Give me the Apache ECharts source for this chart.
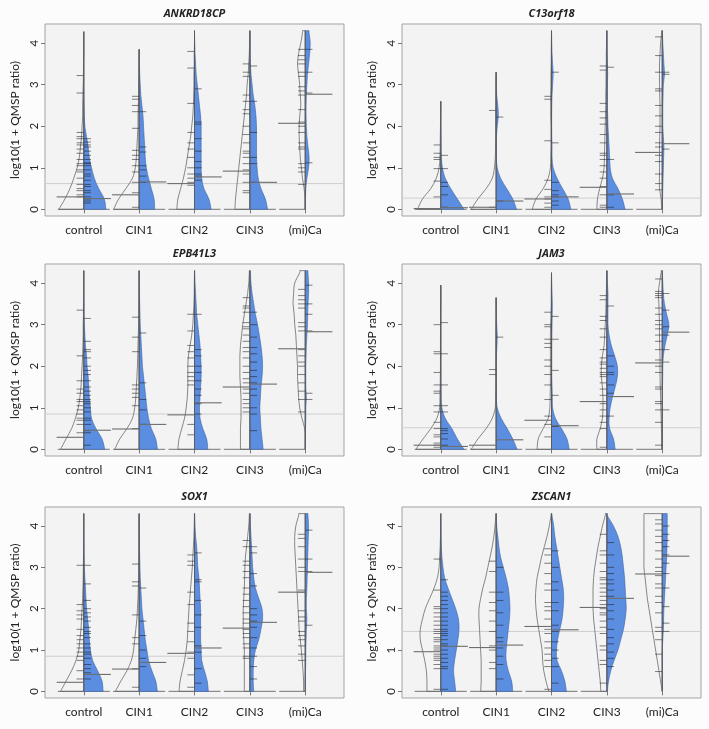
<!DOCTYPE html>
<html>
<head>
<meta charset="utf-8">
<script src="https://cdn.jsdelivr.net/npm/echarts@6/dist/echarts.min.js"></script>
<style>
html,body{margin:0;padding:0;background:#fcfcfc;}
#chart{width:709px;height:729px;}
</style>
</head>
<body>
<div id="chart"></div>
<script>
// ---------------- DATA ----------------
const categories = ['control', 'CIN1', 'CIN2', 'CIN3', '(mi)Ca'];
const genes = ['ANKRD18CP', 'C13orf18', 'EPB41L3', 'JAM3', 'SOX1', 'ZSCAN1'];
const yTicks = [0, 1, 2, 3, 4];
const yAxisTitle = 'log10(1 + QMSP ratio)';
// y levels at which bean half-widths are read (log10 units)
const levels = [0, 0.25, 0.5, 0.75, 1, 1.25, 1.5, 1.75, 2, 2.25, 2.5, 2.75, 3, 3.25, 3.5, 3.75, 4, 4.25];
// overall mean per gene (thin grey reference line)
const overallMeans = [0.62, 0.27, 0.85, 0.52, 0.85, 1.45];

// ---- ANKRD18CP ----  density half-widths in hundredths of category spacing
const densL_ANKRD18CP = [
  [45,34,25,18,12,8,6,4,3,2,2,1.5,1,0.5,0.5,0,0,0],
  [46,37,24,12,7,5,4,3,2,2,1.5,1,1,0.5,0.5,0,0,0],
  [32,30,25,20,16,13,10,7,5,3,2,1.5,1,1,0.5,0.5,0,0],
  [27,26,24,22,20,18,16,14,12,10,8,6,5,3,2,1,0.5,0],
  [0.5,0.5,2,5,7,9,10,11,11,10,8,9,10,12,14,12,8,5]
];
const densR_ANKRD18CP = [
  [40,37,27,19,14,10,8,5,2,1,0.5,0,0,0,0,0,0,0],
  [28,27,22,17,13,11,10,9,8,7,5,3,2,1,0.5,0,0,0],
  [30,26,17,13,12,12,12,12,12,11,9,7,5,3,2,1,0.5,0],
  [32,28,20,15,13,12,12,12,12,11,9,6,4,2,1,0.5,0.5,0],
  [0,0.5,1,3,6,7,5,3,2,1.5,1.5,2,3,4,6,8,9,7]
];
const top_ANKRD18CP = [4.27, 3.85, 4.3, 4.3, 4.3];
const meanL_ANKRD18CP = [0.30, 0.35, 0.62, 0.92, 2.07];
const meanR_ANKRD18CP = [0.26, 0.66, 0.78, 0.65, 2.77];
const zeroL_ANKRD18CP = [1, 1, 1, 1, 1];
const zeroR_ANKRD18CP = [1, 1, 1, 1, 0];
const rugL_ANKRD18CP = [
  [3.22,2.8,1.85,1.75,1.7,1.6,1.55,1.45,1.35,1.2,1.1,1.05,0.95,0.9,0.75,0.6,0.5,0.45,0.35,0.3],
  [2.72,2.65,2.5,2.35,1.95,1.42,1.3,1.2,1.05,0.9,0.65,0.4,0.05],
  [3.8,3.4,2.55,1.85,1.6,1.45,1.25,1.0,0.85,0.75,0.65,0.58],
  [3.5,3.3,3.2,2.75,2.6,2.4,2.3,2.0,1.8,1.6,1.4,1.35,1.25,1.1,0.95,0.85,0.65,0.45,0.4],
  [3.85,3.7,3.6,3.5,3.3,3.2,2.95,2.85,2.75,2.4,2.1,2.0,1.85,1.6,1.5,1.45,1.1,1.0,0.9,0.6]
];
const rugR_ANKRD18CP = [
  [1.7,1.62,1.55,1.5,1.4,1.3,1.2,1.12,1.1,1.05,0.95,0.85,0.8,0.7,0.6,0.55,0.45,0.4,0.3,0.25,0.2,0.15],
  [2.35,1.5,1.38,1.05,0.95,0.8,0.65],
  [2.9,2.1,2.05,1.7,1.4,1.15,1.0,0.85,0.8,0.7],
  [3.45,2.6,1.85,1.25,1.1,0.65],
  [3.85,3.3,2.8,1.12]
];

// ---- C13orf18 ----
const densL_C13orf18 = [
  [42,33,18,8,3,1.5,1,0.8,0.5,0.3,0,0,0,0,0,0,0,0],
  [45,33,18,7,3,1.5,1,0.8,0.8,0.8,0.6,0.5,0.3,0,0,0,0,0],
  [35,28,15,6,2,1.5,1,1,1,1.5,1.5,1.5,1,1,0.5,0.5,0.3,0],
  [18,17,13,8,5,4.5,4,3.5,3,2.5,2,2,1.5,1.5,1,1,0.5,0.3],
  [1,2,5,5,5,5,5,4.5,4,4,4,4.5,5,5,5,4,3,1]
];
const densR_C13orf18 = [
  [42,30,18,8,3,1,0.5,0.3,0,0,0,0,0,0,0,0,0,0],
  [37,30,19,8,2,0.5,0.3,0.5,2,4,3,1,0.3,0,0,0,0,0],
  [35,30,20,10,3,1,1,0.5,0.3,0.3,0.5,1,2,3,2,1,0.5,0.2],
  [33,28,20,10,6,5,4,3,2,1.5,1,1,1,1.5,1,0.5,0.3,0.2],
  [0.5,0.5,1,1.5,2,2.5,3,2,1,1,1,1.5,2,4,3,2,1,0.3]
];
const top_C13orf18 = [2.6, 3.3, 4.3, 4.3, 4.3];
const meanL_C13orf18 = [0.02, 0.05, 0.25, 0.53, 1.37];
const meanR_C13orf18 = [0.04, 0.2, 0.3, 0.37, 1.58];
const zeroL_C13orf18 = [1, 1, 1, 1, 1];
const zeroR_C13orf18 = [1, 1, 1, 1, 0];
const rugL_C13orf18 = [
  [1.55,1.35,1.25,1.2,0.98,0.68,0.3],
  [2.38,0.05],
  [2.72,2.65,1.65,0.7,0.48,0.3,0.25,0.15,0.05],
  [3.45,3.35,2.55,2.35,2.2,2.05,1.8,1.6,1.35,1.3,1.2,1.05,0.9,0.75,0.55,0.35,0.1,0.05],
  [4.15,3.7,3.3,2.9,2.85,2.5,2.25,2.0,1.85,1.6,1.5,1.3,1.15,0.85,0.62,0.47]
];
const rugR_C13orf18 = [
  [1.3,0.98,0.65,0.55,0.35,0.05],
  [2.22,0.2],
  [3.3,1.6,0.65,0.45,0.35,0.3,0.2,0.1],
  [3.42,1.2,0.35,0.05],
  [3.3,3.25,1.45]
];

// ---- EPB41L3 ----
const densL_EPB41L3 = [
  [42,32,22,15,10,7,5,4,3,2,1.5,1,1,0.5,0.5,0,0,0],
  [44,35,22,12,8,6,5,4,3,2.5,2,1.5,1,0.5,0.5,0.3,0,0],
  [30,28,23,18,15,13,12,12,12,11,8,5,3,2,1,0.5,0.3,0],
  [17,17,17,16,16,16,17,18,18,18,17,15,13,10,7,4,2,1],
  [0,0,1,6,10,12,13,14,14,15,16,17,19,20,22,21,19,10]
];
const densR_EPB41L3 = [
  [38,33,22,14,12,10,9,8,6,5,3,2,1,0.5,0.5,0,0,0],
  [33,30,22,17,14,12,10,8,6,5,4,3,2,1.5,1,0.5,0.3,0],
  [24,22,15,10,9,10,11,12,12,11,10,8,6,4,3,2,1,0.5],
  [24,22,20,19,18,19,20,22,23,22,20,17,14,10,7,4,2,1],
  [0,0.3,0.5,1,1,2,1,1,1,1.5,2,3,4,4.5,5,6,6,5]
];
const top_EPB41L3 = [4.3, 4.3, 4.3, 4.3, 4.3];
const meanL_EPB41L3 = [0.29, 0.49, 0.83, 1.5, 2.42];
const meanR_EPB41L3 = [0.46, 0.6, 1.12, 1.57, 2.83];
const zeroL_EPB41L3 = [1, 1, 1, 1, 1];
const zeroR_EPB41L3 = [1, 1, 1, 1, 0];
const rugL_EPB41L3 = [
  [3.35,2.25,1.65,1.45,1.35,1.2,1.15,1.05,0.95,0.85,0.75,0.7,0.6,0.4],
  [3.18,2.7,2.35,1.55,1.45,1.35,1.25,1.05,0.5],
  [3.25,2.85,2.5,2.35,2.2,2.0,1.85,1.75,1.65,1.55,0.6,0.35],
  [3.65,3.45,3.4,3.3,3.05,2.95,2.9,2.75,2.6,2.45,2.35,2.2,2.0,1.85,1.7,1.6,1.45,1.35,1.2,1.1,1.0,0.9],
  [3.85,3.7,3.6,3.5,3.4,3.05,2.95,2.85,2.4,2.25,2.1,2.0,1.8,1.6,1.4,1.2,0.9]
];
const rugR_EPB41L3 = [
  [3.15,2.6,2.4,2.35,2.2,2.0,1.9,1.8,1.65,1.5,1.4,1.3,1.2,1.15,1.1,1.0,0.9,0.75,0.7,0.6,0.45,0.4,0.1],
  [2.8,1.6,1.2,0.95,0.6],
  [3.25,2.4,2.25,2.0,1.85,1.65,1.45,1.3,1.1,0.85],
  [3.3,3.0,2.7,2.45,2.3,2.1,1.9,1.75,1.6,1.45,1.3,1.0,0.85,0.45],
  [3.95,3.5,3.25,2.85,1.35,1.2]
];

// ---- JAM3 ----
const densL_JAM3 = [
  [45,32,18,7,2,1.5,1,0.8,0.5,0.5,0.5,0.5,0.3,0.3,0,0,0,0],
  [45,33,18,7,1.5,1,0.5,0.5,0.5,0.5,0.3,0.3,0.3,0,0,0,0,0],
  [26,24,15,6,3,2.5,2,2,2,2,2,2,1.5,1,0.5,0.5,0.3,0],
  [18,18,12,8,7,7,8,10,10,8,5,4,3,2,1.5,1,0.5,0],
  [1,1,1.5,2,2.5,3,3.5,4,4,4,4.5,5,5,5.5,6,7,5,2]
];
const densR_JAM3 = [
  [42,30,20,8,2,0.5,0.3,0,0,0,0,0,0,0,0,0,0,0],
  [38,30,20,9,2,0.5,0.5,0.3,0.3,0.5,1.5,2,1,0.5,0.2,0,0,0],
  [32,28,18,7,2,1.5,1,0.5,0.5,0.5,0.5,0.7,1,1.3,1.5,1,0.5,0],
  [15,12,5,4,6,10,15,19,19,14,8,4,2,2,2,2,1,0.3],
  [0,0,0,0.3,0.3,0.5,0.5,0.8,1,2,5,9,12,8,4,2,1,0.3]
];
const top_JAM3 = [3.95, 3.65, 4.25, 4.3, 4.3];
const meanL_JAM3 = [0.1, 0.1, 0.7, 1.15, 2.08];
const meanR_JAM3 = [0.07, 0.23, 0.57, 1.27, 2.82];
const zeroL_JAM3 = [1, 1, 1, 1, 1];
const zeroR_JAM3 = [1, 1, 1, 1, 0];
const rugL_JAM3 = [
  [3.0,2.35,2.3,1.85,1.55,1.4,1.35,1.05,0.9,0.65,0.5,0.35,0.3,0.15,0.1,0.05],
  [1.92,1.8],
  [3.3,3.0,2.95,2.65,2.55,2.45,2.15,2.0,1.8,1.55,1.2,0.8,0.6,0.3],
  [3.7,3.6,3.2,3.1,2.9,2.7,2.4,2.2,2.1,2.05,1.95,1.85,1.8,1.75,1.6,1.45,1.3,1.1,0.95,0.8,0.65,0.5,0.05],
  [4.1,3.8,3.75,3.7,3.65,3.4,3.25,3.1,3.0,2.9,2.75,2.6,2.4,2.15,2.0,1.85,1.5,1.45,1.15,1.1,0.95,0.65,0.1]
];
const rugR_JAM3 = [
  [3.05,2.3,1.55,1.05,0.9,0.5,0.45,0.38,0.25,0.1],
  [2.7],
  [3.2,2.65,1.9,1.3,0.55],
  [3.45,2.25,2.0,1.85,1.8,1.55,1.35,0.8],
  [3.75,3.35,2.95,2.75,2.4,2.1,0.95]
];

// ---- SOX1 ----
const densL_SOX1 = [
  [42,32,22,14,9,7,5,4,3,2,1.5,1,0.8,0.5,0.4,0.3,0,0],
  [43,33,22,14,10,8,6,4,3,2,1.5,1,0.8,0.5,0.4,0.3,0.2,0],
  [28,26,22,18,15,13,12,11,10,8.5,7,5.5,4,3,2,1,0.5,0.2],
  [10,10,10,10,10,11,12,12,12,11,10,9.5,9,8,6,4,2,1],
  [3,3,4,5.5,7,9,11,12,13,14,15,16,17,18,19,19,17,12]
];
const densR_SOX1 = [
  [35,33,25,16,12,10,9,7,5,4,3,2,1,0.7,0.5,0.3,0,0],
  [33,30,23,17,14,11,9,7,5,4,3,2,1.5,1,0.5,0.3,0,0],
  [25,23,18,13,12,11,11,11,11,10,9,8,6,5,4,2,1,0.5],
  [7,6,6,7,10,16,20,23,22,16,10,7,5,4,3,2,1,0.5],
  [0,0,0.5,1,1,1.5,2,3,2,2,3,3.5,4,4.5,5,5.5,6,5]
];
const top_SOX1 = [4.3, 4.3, 4.3, 4.3, 4.3];
const meanL_SOX1 = [0.22, 0.54, 0.92, 1.53, 2.4];
const meanR_SOX1 = [0.41, 0.7, 1.05, 1.67, 2.88];
const zeroL_SOX1 = [1, 1, 1, 1, 1];
const zeroR_SOX1 = [1, 1, 1, 1, 0];
const rugL_SOX1 = [
  [3.05,2.1,1.95,1.85,1.75,1.5,1.35,1.25,1.15,1.05,0.95,0.85,0.75,0.5,0.3],
  [3.08,2.65,2.55,1.85,1.3,1.15,0.55,0.1],
  [3.3,3.15,3.05,2.4,2.1,1.65,1.45,1.2,0.95,0.8,0.4,0.1],
  [3.65,3.5,3.15,3.05,2.9,2.75,2.5,2.35,2.2,2.05,1.9,1.75,1.65,1.5,1.4,1.3,1.15,1.05,0.85,0.8],
  [3.8,3.7,3.5,3.2,3.0,2.9,2.45,2.4,1.95,1.8,1.7,1.45,1.35,1.25,1.1,0.9,0.75]
];
const rugR_SOX1 = [
  [3.05,2.6,2.2,2.0,1.9,1.8,1.7,1.55,1.45,1.4,1.3,1.15,1.05,0.95,0.9,0.8,0.65,0.55,0.45,0.3],
  [2.5,1.7,1.35,1.0,0.8,0.6],
  [3.35,2.7,2.65,2.2,1.85,1.55,1.1,0.95,0.55,0.2],
  [3.5,3.35,2.85,2.55,2.0,1.85,1.7,1.55,1.3,1.05,0.85,0.6,0.3],
  [3.9,3.2,2.9,1.6]
];

// ---- ZSCAN1 ----
const densL_ZSCAN1 = [
  [25,25,26,29,33,37,37,33,28,20,12,6,3,2,1,0.5,0.3,0],
  [28,27,27,27,28,29,30,31,31,28,24,19,15,11,7,4,2,0.5],
  [5,10,14,16,17,20,23,26,28,29,28,26,22,18,13,8,4,1],
  [11,12,14,16,18,20,22,24,25,25,25,24,22,19,16,12,8,3],
  [0,3,6,9,12,15,18,21,24,27,29,31,33,33,33,33,33,33]
];
const densR_ZSCAN1 = [
  [27,25,23,25,28,31,33,32,27,20,13,7,4,2,1,0.5,0.3,0],
  [30,28,22,18,18,20,22,24,25,24,22,18,13,8,5,3,1,0.5],
  [27,24,18,10,9,11,15,19,21,22,21,18,15,12,9,6,4,1],
  [1,3,7,13,20,25,30,33,35,34,33,32,30,28,25,20,12,1],
  [0,0,0,0,0,1,2,2.5,3,4,5,6,7,8,8.5,9,9,9]
];
const top_ZSCAN1 = [4.3, 4.3, 4.3, 4.3, 4.3];
const meanL_ZSCAN1 = [0.96, 1.06, 1.57, 2.03, 2.84];
const meanR_ZSCAN1 = [1.09, 1.12, 1.49, 2.25, 3.27];
const zeroL_ZSCAN1 = [1, 1, 1, 1, 0];
const zeroR_ZSCAN1 = [1, 1, 1, 0, 0];
const rugL_ZSCAN1 = [
  [3.2,2.45,2.05,2.0,1.9,1.8,1.7,1.6,1.5,1.45,1.4,1.3,1.25,1.2,1.1,1.05,1.0,0.9,0.85,0.8,0.75,0.65,0.55,0.05],
  [3.15,2.9,2.4,2.15,1.95,1.7,1.45,1.1,1.0,0.7,0.55],
  [3.45,3.3,3.1,2.85,2.6,2.45,2.15,2.05,1.95,1.75,1.5,1.4,1.2,1.05,0.9,0.75,0.6,0.05],
  [3.8,3.4,3.3,3.1,2.9,2.75,2.7,2.6,2.5,2.4,2.3,2.2,2.1,2.0,1.9,1.85,1.7,1.55,1.4,1.1,1.0,0.75,0.65,0.2],
  [4.15,4.05,3.9,3.75,3.6,3.4,3.2,3.0,2.9,2.8,2.6,2.5,2.3,2.15,1.9,1.55,1.45,1.25,0.9,0.48]
];
const rugR_ZSCAN1 = [
  [2.7,2.4,2.3,2.2,2.1,2.0,1.9,1.8,1.7,1.6,1.5,1.45,1.4,1.35,1.25,1.15,1.1,1.0,0.9,0.8,0.7,0.6,0.55,0.05],
  [3.0,2.4,2.2,1.9,1.6,1.3,1.2,1.05,0.85,0.65,0.3],
  [3.4,3.0,2.65,2.45,2.15,1.95,1.6,1.45,1.2,1.0,0.8,0.6,0.2],
  [3.6,3.3,3.0,2.85,2.7,2.6,2.45,2.3,2.1,1.95,1.75,1.5,1.3,1.15,0.95,0.8,0.6],
  [4.0,3.8,3.65,3.5,3.3,3.1,2.85,2.5,2.05,1.65,1.45]
];

// ---------------- ASSEMBLY ----------------
const panels = [
  {dL: densL_ANKRD18CP, dR: densR_ANKRD18CP, top: top_ANKRD18CP, mL: meanL_ANKRD18CP, mR: meanR_ANKRD18CP, zL: zeroL_ANKRD18CP, zR: zeroR_ANKRD18CP, rL: rugL_ANKRD18CP, rR: rugR_ANKRD18CP},
  {dL: densL_C13orf18, dR: densR_C13orf18, top: top_C13orf18, mL: meanL_C13orf18, mR: meanR_C13orf18, zL: zeroL_C13orf18, zR: zeroR_C13orf18, rL: rugL_C13orf18, rR: rugR_C13orf18},
  {dL: densL_EPB41L3, dR: densR_EPB41L3, top: top_EPB41L3, mL: meanL_EPB41L3, mR: meanR_EPB41L3, zL: zeroL_EPB41L3, zR: zeroR_EPB41L3, rL: rugL_EPB41L3, rR: rugR_EPB41L3},
  {dL: densL_JAM3, dR: densR_JAM3, top: top_JAM3, mL: meanL_JAM3, mR: meanR_JAM3, zL: zeroL_JAM3, zR: zeroR_JAM3, rL: rugL_JAM3, rR: rugR_JAM3},
  {dL: densL_SOX1, dR: densR_SOX1, top: top_SOX1, mL: meanL_SOX1, mR: meanR_SOX1, zL: zeroL_SOX1, zR: zeroR_SOX1, rL: rugL_SOX1, rR: rugR_SOX1},
  {dL: densL_ZSCAN1, dR: densR_ZSCAN1, top: top_ZSCAN1, mL: meanL_ZSCAN1, mR: meanR_ZSCAN1, zL: zeroL_ZSCAN1, zR: zeroR_ZSCAN1, rL: rugL_ZSCAN1, rR: rugR_ZSCAN1}
];

// layout (pixels)
const gridLefts = [45, 402];
const gridTops = [24, 264, 507];
const gridW = 299, gridH = 192;
const FONT = 'Lato, "Open Sans", sans-serif';

const BLUE = '#5b8de0';
const BLUE_EDGE = '#3d63a8';
const OUTLINE = '#6a6a6a';
const RUG = 'rgba(30,30,30,0.55)';
const MEANC = '#6e6e6e';

function widthAt(d, y) {
  if (y >= levels[levels.length - 1]) return d[d.length - 1];
  for (let k = 0; k < levels.length - 1; k++) {
    if (y >= levels[k] && y <= levels[k + 1]) {
      const t = (y - levels[k]) / (levels[k + 1] - levels[k]);
      return d[k] * (1 - t) + d[k + 1] * t;
    }
  }
  return 0;
}

function halfPath(api, cx, d, top, side) {
  const c0 = api.coord([cx, 0]);
  const cT = api.coord([cx, top]);
  const pts = [];
  for (let k = 0; k < levels.length; k++) {
    if (levels[k] < top - 1e-6) pts.push(api.coord([cx + side * d[k] / 100, levels[k]]));
  }
  pts.push(api.coord([cx + side * widthAt(d, top) / 100, top]));
  const cxp = c0[0];
  const clampX = x => side > 0 ? Math.max(x, cxp) : Math.min(x, cxp);
  let s = 'M' + cxp + ' ' + c0[1] + ' L' + pts[0][0] + ' ' + pts[0][1];
  for (let i = 0; i < pts.length - 1; i++) {
    const p0 = pts[i - 1] || pts[i], p1 = pts[i], p2 = pts[i + 1], p3 = pts[i + 2] || pts[i + 1];
    const c1x = clampX(p1[0] + (p2[0] - p0[0]) / 6), c1y = p1[1] + (p2[1] - p0[1]) / 6;
    const c2x = clampX(p2[0] - (p3[0] - p1[0]) / 6), c2y = p2[1] - (p3[1] - p1[1]) / 6;
    s += ' C' + c1x + ' ' + c1y + ' ' + c2x + ' ' + c2y + ' ' + p2[0] + ' ' + p2[1];
  }
  s += ' L' + cT[0] + ' ' + cT[1] + ' Z';
  return s;
}

function seg(a, b, stroke, w) {
  return {type: 'line', shape: {x1: a[0], y1: a[1], x2: b[0], y2: b[1]}, style: {stroke: stroke, lineWidth: w}};
}

function makeRenderer(p, overall) {
  return function (params, api) {
    const i = params.dataIndex;
    const cx = api.value(0);
    const ch = [];
    if (i === 0) {
      ch.push(seg(api.coord([0.3, overall]), api.coord([5.7, overall]), '#cfcfcf', 1));
    }
    // zero lines
    if (p.zL[i]) ch.push(seg(api.coord([cx - 0.47, 0]), api.coord([cx, 0]), '#8a8a8a', 1.2));
    if (p.zR[i]) ch.push(seg(api.coord([cx, 0]), api.coord([cx + 0.47, 0]), '#8a8a8a', 1.2));
    // right (blue) half
    ch.push({type: 'path', shape: {pathData: halfPath(api, cx, p.dR[i], p.top[i], 1)},
      style: {fill: BLUE, stroke: BLUE_EDGE, lineWidth: 0.6}});
    // left (outline) half
    ch.push({type: 'path', shape: {pathData: halfPath(api, cx, p.dL[i], p.top[i], -1)},
      style: {fill: null, stroke: OUTLINE, lineWidth: 0.8}});
    // rug lines
    p.rL[i].forEach(v => ch.push(seg(api.coord([cx - 0.13, v]), api.coord([cx, v]), RUG, 1)));
    p.rR[i].forEach(v => ch.push(seg(api.coord([cx, v]), api.coord([cx + 0.13, v]), RUG, 1)));
    // center line
    ch.push(seg(api.coord([cx, 0]), api.coord([cx, p.top[i]]), '#555', 0.8));
    // group means
    ch.push(seg(api.coord([cx - 0.49, p.mL[i]]), api.coord([cx, p.mL[i]]), MEANC, 1.1));
    ch.push(seg(api.coord([cx, p.mR[i]]), api.coord([cx + 0.49, p.mR[i]]), MEANC, 1.1));
    return {type: 'group', children: ch};
  };
}

const grids = [], xAxes = [], yAxes = [], series = [], titles = [];
const catPos = categories.map((c, k) => k + 1);
panels.forEach((p, g) => {
  const col = g % 2, row = Math.floor(g / 2);
  const left = gridLefts[col], top = gridTops[row];
  const h = row === 2 ? 191 : gridH;
  grids.push({left: left, top: top, width: gridW, height: h, show: true,
    backgroundColor: '#f3f3f3', borderColor: '#a3a3a3', borderWidth: 1});
  xAxes.push({gridIndex: g, type: 'value', min: 0.3, max: 5.7,
    axisLine: {show: false}, splitLine: {show: false},
    axisTick: {show: true, customValues: catPos, length: 4, lineStyle: {color: '#777'}},
    axisLabel: {customValues: catPos, formatter: v => categories[Math.round(v) - 1],
      color: '#222', fontSize: 12, fontFamily: FONT, margin: 8}});
  yAxes.push({gridIndex: g, type: 'value', min: -0.16, max: 4.46,
    axisLine: {show: false}, splitLine: {show: false},
    axisTick: {show: true, customValues: yTicks, length: 4, lineStyle: {color: '#777'}},
    axisLabel: {customValues: yTicks, rotate: 90, color: '#222', fontSize: 11.5, fontFamily: FONT, margin: 5},
    name: yAxisTitle, nameLocation: 'middle', nameRotate: 90, nameGap: 24,
    nameTextStyle: {color: '#222', fontSize: 12, fontFamily: FONT}});
  titles.push({text: genes[g], left: left + gridW / 2, top: top - 16, textAlign: 'center', padding: 0,
    textStyle: {fontSize: 11, fontWeight: 'bold', fontStyle: 'italic', color: '#222', fontFamily: '"Open Sans", sans-serif'}});
  series.push({type: 'custom', xAxisIndex: g, yAxisIndex: g, silent: true,
    data: catPos.map(v => [v]), encode: {x: 0},
    renderItem: makeRenderer(p, overallMeans[g]), clip: false, animation: false});
});

const chart = echarts.init(document.getElementById('chart'), null, {renderer: 'canvas'});
chart.setOption({
  backgroundColor: '#fcfcfc',
  animation: false,
  title: titles,
  grid: grids,
  xAxis: xAxes,
  yAxis: yAxes,
  series: series
});
</script>
</body>
</html>
